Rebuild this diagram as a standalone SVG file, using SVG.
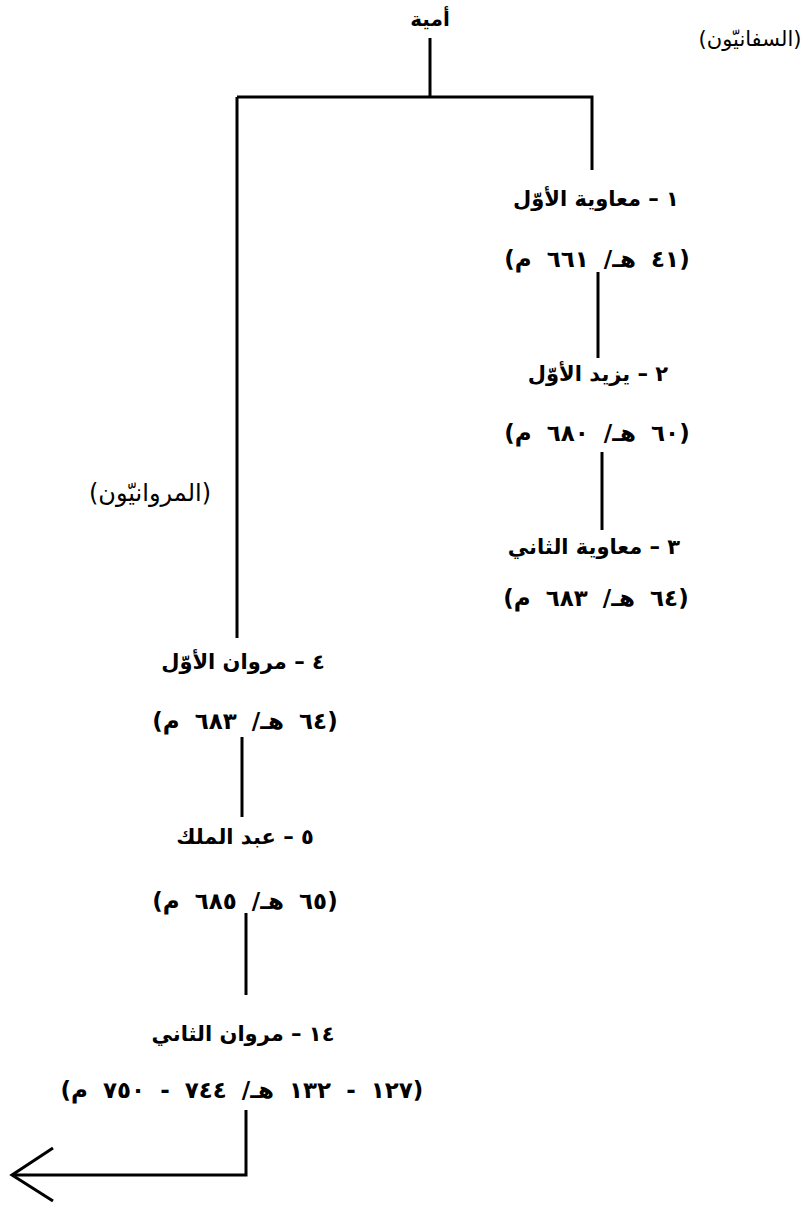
<svg xmlns="http://www.w3.org/2000/svg" width="805" height="1207" viewBox="0 0 805 1207">
<style>
  text { font-family: "DejaVu Sans", "Noto Sans", sans-serif; fill: #000; direction: rtl; text-anchor: middle; }
  .name { font-size: 21px; font-weight: bold; }
  .date { font-size: 23px; font-weight: bold; word-spacing: 7px; }
  .group { font-size: 21px; }
  .top { font-size: 20px; font-weight: bold; }
  .conn { fill: none; stroke: #000; stroke-width: 3; stroke-linecap: butt; stroke-linejoin: miter; }
</style>
<rect width="805" height="1207" fill="#fff"/>
<g id="connectors">
  <path class="conn" d="M430 38 V97"/>
  <path class="conn" d="M237 97 H592 V170"/>
  <path class="conn" d="M598 272 V358"/>
  <path class="conn" d="M602 452 V530"/>
  <path class="conn" d="M237 97 V638"/>
  <path class="conn" d="M242 737 V817"/>
  <path class="conn" d="M246 913 V995"/>
  <path class="conn" d="M246 1110 V1175 H12"/>
  <path class="conn" d="M53 1148 L12 1175 L53 1201"/>
</g>
<g id="umayya"><text class="top" x="430" y="26">أمية</text></g>
<g id="sufyanids-label"><text class="group" x="750" y="46">(السفانيّون)</text></g>
<g id="marwanids-label"><text class="group" x="150" y="501" style="font-size:24px">(المروانيّون)</text></g>
<g id="node1">
  <text class="name" x="596" y="206">١ – معاوية الأوّل</text>
  <text class="date" x="597" y="267">(٤١ هـ/ ٦٦١ م)</text>
</g>
<g id="node2">
  <text class="name" x="598" y="381">٢ – يزيد الأوّل</text>
  <text class="date" x="597" y="441">(٦٠ هـ/ ٦٨٠ م)</text>
</g>
<g id="node3">
  <text class="name" x="594" y="554">٣ – معاوية الثاني</text>
  <text class="date" x="596" y="606">(٦٤ هـ/ ٦٨٣ م)</text>
</g>
<g id="node4">
  <text class="name" x="243" y="669">٤ – مروان الأوّل</text>
  <text class="date" x="245" y="729">(٦٤ هـ/ ٦٨٣ م)</text>
</g>
<g id="node5">
  <text class="name" x="245" y="844">٥ – عبد الملك</text>
  <text class="date" x="245" y="909">(٦٥ هـ/ ٦٨٥ م)</text>
</g>
<g id="node14">
  <text class="name" x="243" y="1041">١٤ – مروان الثاني</text>
  <text class="date" x="242" y="1098">(١٢٧ - ١٣٢ هـ/ ٧٤٤ - ٧٥٠ م)</text>
</g>
</svg>
